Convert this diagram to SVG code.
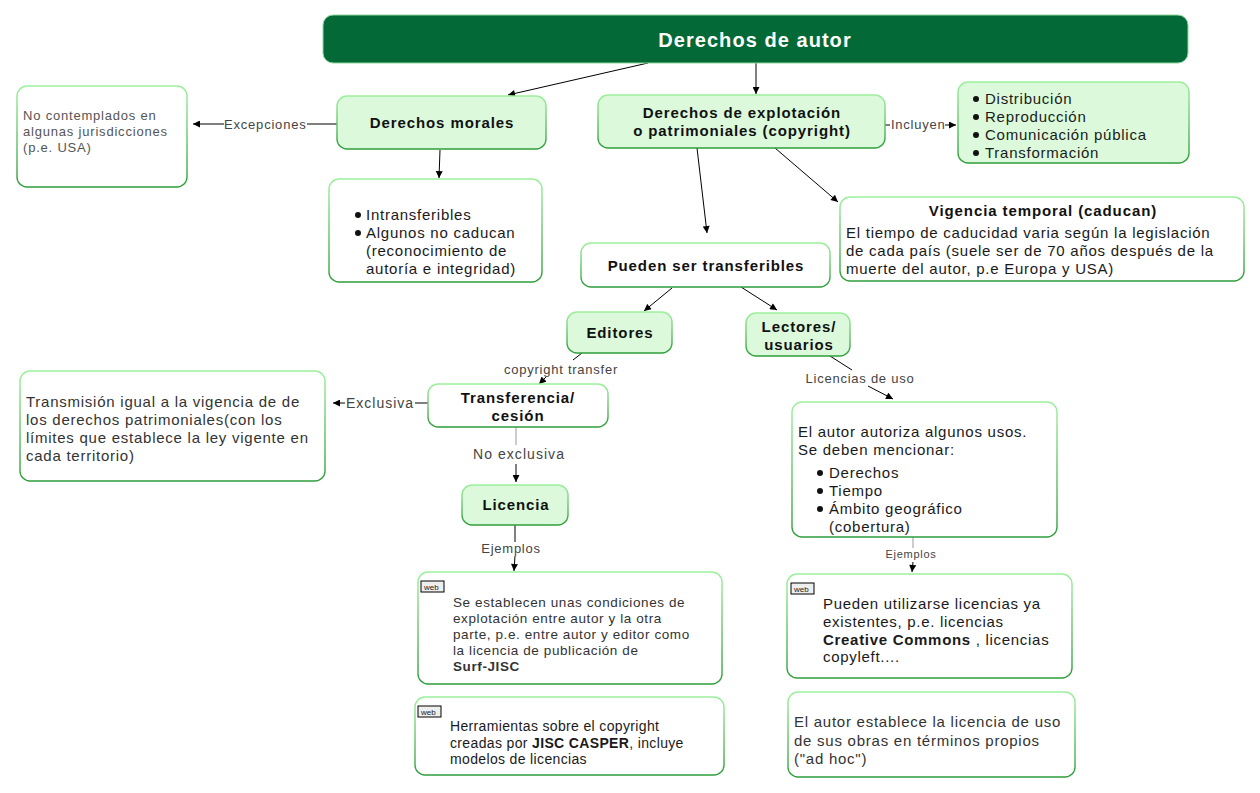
<svg xmlns="http://www.w3.org/2000/svg" width="1260" height="793" viewBox="0 0 1260 793">
<defs>
<linearGradient id="bd" x1="0" y1="0" x2="0" y2="1">
<stop offset="0" stop-color="#9cf09c"/>
<stop offset="1" stop-color="#2e9e3a"/>
</linearGradient>
<marker id="ar" viewBox="0 0 10 10" refX="10" refY="5" markerWidth="8" markerHeight="7" markerUnits="userSpaceOnUse" orient="auto">
<path d="M0,0 L10,5 L0,10 z" fill="#000"/>
</marker>
<style>
.box{fill:#fff;stroke:url(#bd);stroke-width:1.4}
.gbox{fill:#dcfadb;stroke:url(#bd);stroke-width:1.4}
.t{font-family:"Liberation Sans",Arial,sans-serif;font-size:15px;fill:#1a1a1a;letter-spacing:0.75px}
.b{font-family:"Liberation Sans",Arial,sans-serif;font-size:15px;font-weight:bold;fill:#111;letter-spacing:0.9px}
.g{font-family:"Liberation Sans",Arial,sans-serif;font-size:15px;fill:#333;letter-spacing:0.75px}
.lbl{font-family:"Liberation Sans",Arial,sans-serif;font-size:13px;fill:#444;letter-spacing:0.8px}
.s{font-family:"Liberation Sans",Arial,sans-serif;font-size:13px;fill:#444;letter-spacing:0.75px}
.c{stroke:#000;stroke-width:1;fill:none}
.cg{stroke:#999;stroke-width:1;fill:none}
.a{marker-end:url(#ar)}
.web{fill:#eee;stroke:#000;stroke-width:1}
.wt{font-family:"Liberation Sans",Arial,sans-serif;font-size:8px;fill:#222}
</style>
</defs>

<g id="connectors">
<line class="c a" x1="648" y1="63" x2="508" y2="95"/>
<line class="c a" x1="756" y1="63" x2="756" y2="94"/>
<line class="c" x1="337" y1="124" x2="307" y2="124"/>
<line class="c a" x1="224" y1="124" x2="193" y2="124"/>
<text class="lbl" x="224" y="129">Excepciones</text>
<line class="c" x1="885" y1="125" x2="890" y2="125"/>
<line class="c a" x1="945" y1="125" x2="956" y2="125"/>
<text class="s" x="891" y="129">Incluyen</text>
<line class="c a" x1="440" y1="150" x2="439" y2="178"/>
<line class="c a" x1="697" y1="148" x2="707" y2="233"/>
<line class="c a" x1="775" y1="148" x2="838" y2="202"/>
<line class="c a" x1="672" y1="288" x2="644" y2="311"/>
<line class="c a" x1="741" y1="287" x2="777" y2="310"/>
<line class="c" x1="582" y1="353" x2="573" y2="360"/>
<line class="c a" x1="546" y1="377" x2="539" y2="384"/>
<text class="s" x="561" y="374" text-anchor="middle">copyright transfer</text>
<line class="c" x1="428" y1="403" x2="415" y2="403"/>
<line class="c a" x1="345" y1="403" x2="333" y2="403"/>
<text class="g" x="346" y="408" style="font-size:14px;fill:#444;letter-spacing:1px">Exclusiva</text>
<line class="cg" x1="516" y1="427" x2="516" y2="445"/>
<line class="c a" x1="516" y1="464" x2="516" y2="482"/>
<text class="g" x="519" y="459" text-anchor="middle" style="font-size:14px;fill:#444;letter-spacing:1.05px">No exclusiva</text>
<line class="c" x1="515" y1="525" x2="515" y2="542"/>
<line class="c a" x1="515" y1="556" x2="514" y2="571"/>
<text class="s" x="511" y="553" text-anchor="middle">Ejemplos</text>
<line class="c" x1="830" y1="356" x2="852" y2="370"/>
<line class="c a" x1="868" y1="386" x2="893" y2="399"/>
<text class="s" x="860" y="383" text-anchor="middle">Licencias de uso</text>
<line class="cg" x1="913" y1="537" x2="913" y2="548"/>
<line class="c a" x1="913" y1="562" x2="912" y2="572"/>
<text class="s" x="911" y="558" text-anchor="middle" style="font-size:11px">Ejemplos</text>
</g>

<g id="n-title">
<rect x="323" y="15" width="865" height="48" rx="10" fill="#026937" stroke="#8fd8a0" stroke-width="1"/>
<text x="755" y="47" text-anchor="middle" style="font-family:'Liberation Sans',Arial,sans-serif;font-size:20px;font-weight:bold;fill:#fff;letter-spacing:1.05px">Derechos de autor</text>
</g>

<g id="n-morales">
<rect class="gbox" x="337" y="96" width="209" height="53" rx="10"/>
<text class="b" x="442" y="128" text-anchor="middle">Derechos morales</text>
</g>

<g id="n-nocontemplados">
<rect class="box" x="17" y="86" width="170" height="101" rx="10"/>
<text class="g" x="23" y="120" style="font-size:13px;fill:#555;letter-spacing:0.8px">No contemplados en</text>
<text class="g" x="23" y="136" style="font-size:13px;fill:#555;letter-spacing:0.8px">algunas jurisdicciones</text>
<text class="g" x="23" y="152" style="font-size:13px;fill:#555;letter-spacing:0.8px">(p.e. USA)</text>
</g>

<g id="n-explotacion">
<rect class="gbox" x="598" y="95" width="287" height="53" rx="10"/>
<text class="b" x="742" y="118" text-anchor="middle">Derechos de explotación</text>
<text class="b" x="742" y="136" text-anchor="middle">o patrimoniales (copyright)</text>
</g>

<g id="n-incluyen">
<rect class="gbox" x="958" y="82" width="231" height="81" rx="10"/>
<circle cx="976" cy="99" r="3" fill="#111"/>
<text class="t" x="985" y="104">Distribución</text>
<circle cx="976" cy="117" r="3" fill="#111"/>
<text class="t" x="985" y="122">Reproducción</text>
<circle cx="976" cy="135" r="3" fill="#111"/>
<text class="t" x="985" y="140">Comunicación pública</text>
<circle cx="976" cy="153" r="3" fill="#111"/>
<text class="t" x="985" y="158">Transformación</text>
</g>

<g id="n-intransferibles">
<rect class="box" x="329" y="179" width="213" height="103" rx="10"/>
<circle cx="358" cy="215" r="3" fill="#111"/>
<text class="t" x="366" y="220">Intransferibles</text>
<circle cx="358" cy="233" r="3" fill="#111"/>
<text class="t" x="366" y="238">Algunos no caducan</text>
<text class="t" x="366" y="256">(reconocimiento de</text>
<text class="t" x="366" y="274">autoría e integridad)</text>
</g>

<g id="n-vigencia">
<rect class="box" x="840" y="197" width="404" height="84" rx="10"/>
<text class="b" x="1043" y="216" text-anchor="middle">Vigencia temporal (caducan)</text>
<text class="t" x="846" y="238">El tiempo de caducidad varia según la legislación</text>
<text class="t" x="846" y="256">de cada país (suele ser de 70 años después de la</text>
<text class="t" x="846" y="274">muerte del autor, p.e Europa y USA)</text>
</g>

<g id="n-transferibles">
<rect class="box" x="581" y="243" width="249" height="44" rx="10"/>
<text class="b" x="706" y="271" text-anchor="middle">Pueden ser transferibles</text>
</g>

<g id="n-editores">
<rect class="gbox" x="567" y="312" width="105" height="41" rx="10"/>
<text class="b" x="620" y="338" text-anchor="middle">Editores</text>
</g>

<g id="n-lectores">
<rect class="gbox" x="746" y="313" width="104" height="43" rx="10"/>
<text class="b" x="799" y="332" text-anchor="middle">Lectores/</text>
<text class="b" x="799" y="350" text-anchor="middle">usuarios</text>
</g>

<g id="n-transferencia">
<rect class="box" x="428" y="384" width="180" height="43" rx="10"/>
<text class="b" x="518" y="403" text-anchor="middle">Transferencia/</text>
<text class="b" x="518" y="421" text-anchor="middle">cesión</text>
</g>

<g id="n-transmision">
<rect class="box" x="20" y="371" width="305" height="110" rx="10"/>
<text class="g" x="26" y="407">Transmisión igual a la vigencia de de</text>
<text class="g" x="26" y="425">los derechos patrimoniales(con los</text>
<text class="g" x="26" y="443">límites que establece la ley vigente en</text>
<text class="g" x="26" y="461">cada territorio)</text>
</g>

<g id="n-licencia">
<rect class="gbox" x="462" y="485" width="106" height="40" rx="10"/>
<text class="b" x="516" y="510" text-anchor="middle">Licencia</text>
</g>

<g id="n-surf">
<rect class="box" x="418" y="572" width="304" height="112" rx="10"/>
<rect class="web" x="421" y="581" width="23" height="11"/>
<text class="wt" x="424" y="590">web</text>
<text class="g" x="453" y="607" style="font-size:13.5px;letter-spacing:0.6px">Se establecen unas condiciones de</text>
<text class="g" x="453" y="623" style="font-size:13.5px;letter-spacing:0.6px">explotación entre autor y la otra</text>
<text class="g" x="453" y="639" style="font-size:13.5px;letter-spacing:0.6px">parte, p.e. entre autor y editor como</text>
<text class="g" x="453" y="655" style="font-size:13.5px;letter-spacing:0.6px">la licencia de publicación de</text>
<text class="g" x="453" y="671" style="font-size:13.5px;font-weight:bold;letter-spacing:0.6px">Surf-JISC</text>
</g>

<g id="n-casper">
<rect class="box" x="415" y="697" width="309" height="78" rx="10"/>
<rect class="web" x="418" y="706" width="23" height="11"/>
<text class="wt" x="421" y="715">web</text>
<text class="t" x="450" y="731" style="font-size:14px;letter-spacing:0.35px">Herramientas sobre el copyright</text>
<text class="t" x="450" y="748" style="font-size:14px;letter-spacing:0.35px">creadas por <tspan font-weight="bold">JISC CASPER</tspan>, incluye</text>
<text class="t" x="450" y="764" style="font-size:14px;letter-spacing:0.35px">modelos de licencias</text>
</g>

<g id="n-autoriza">
<rect class="box" x="792" y="402" width="265" height="135" rx="10"/>
<text class="t" x="798" y="437">El autor autoriza algunos usos.</text>
<text class="t" x="798" y="455">Se deben mencionar:</text>
<circle cx="820" cy="473" r="3" fill="#111"/>
<text class="t" x="829" y="478">Derechos</text>
<circle cx="820" cy="491" r="3" fill="#111"/>
<text class="t" x="829" y="496">Tiempo</text>
<circle cx="820" cy="509" r="3" fill="#111"/>
<text class="t" x="829" y="514">Ámbito geográfico</text>
<text class="t" x="829" y="532">(cobertura)</text>
</g>

<g id="n-creative">
<rect class="box" x="787" y="574" width="285" height="104" rx="10"/>
<rect class="web" x="791" y="583" width="23" height="11"/>
<text class="wt" x="794" y="592">web</text>
<text class="t" x="823" y="609" style="letter-spacing:0.7px">Pueden utilizarse licencias ya</text>
<text class="t" x="823" y="627" style="letter-spacing:0.7px">existentes, p.e. licencias</text>
<text class="t" x="823" y="645" style="letter-spacing:0.7px"><tspan font-weight="bold">Creative Commons</tspan> , licencias</text>
<text class="t" x="823" y="662" style="letter-spacing:0.7px">copyleft....</text>
</g>

<g id="n-adhoc">
<rect class="box" x="788" y="692" width="287" height="85" rx="10"/>
<text class="g" x="794" y="727">El autor establece la licencia de uso</text>
<text class="g" x="794" y="746">de sus obras en términos propios</text>
<text class="g" x="794" y="764">("ad hoc")</text>
</g>
</svg>
